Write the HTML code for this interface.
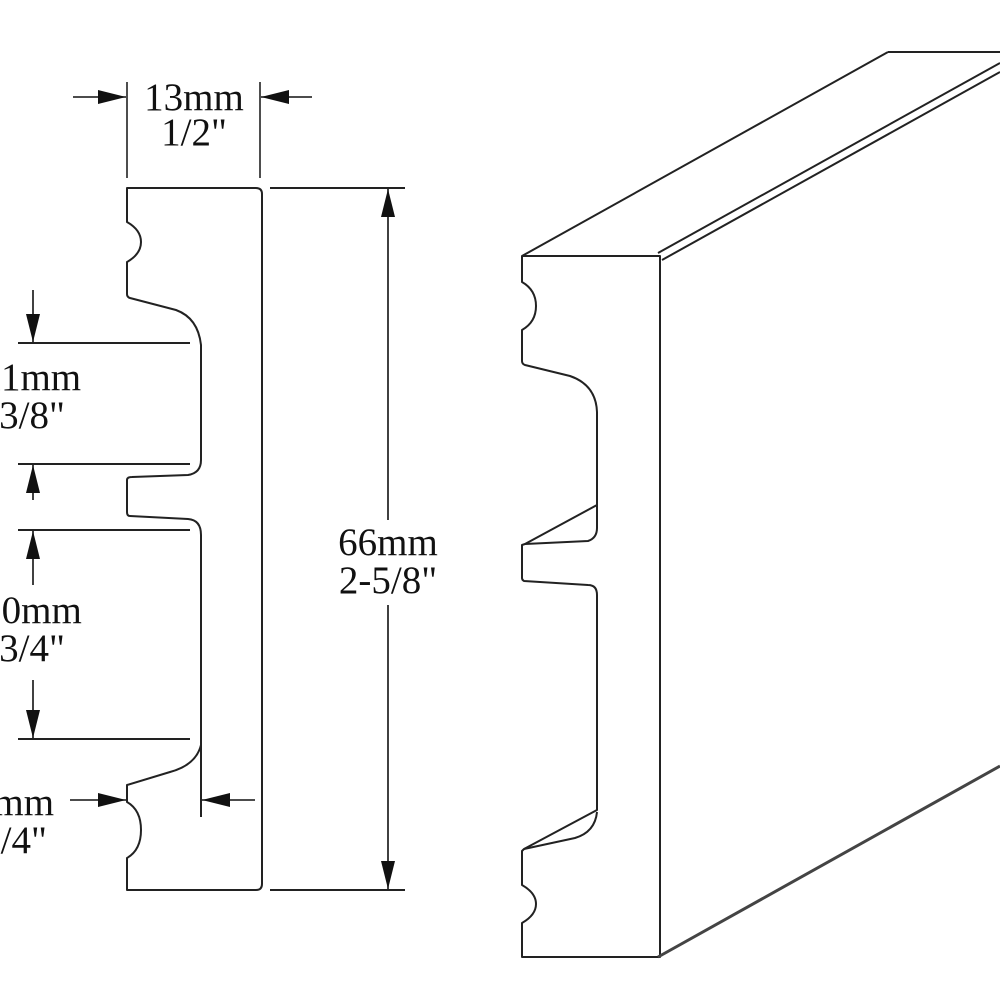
<!DOCTYPE html>
<html><head><meta charset="utf-8"><style>
html,body{margin:0;padding:0;background:#fff;}
svg{display:block;}
text{font-family:"Liberation Serif",serif;font-size:39px;fill:#111;}
</style></head><body>
<svg width="1000" height="1000" viewBox="0 0 1000 1000" xmlns="http://www.w3.org/2000/svg">
<defs>
<marker id="ah" viewBox="0 0 28 14" refX="28" refY="7" markerWidth="28" markerHeight="14" markerUnits="userSpaceOnUse" orient="auto">
<path d="M0,0 L28,7 L0,14 Z" fill="#111"/>
</marker>
</defs>
<g fill="none" stroke="#222" stroke-width="2" stroke-linejoin="round">
<path d="M127,188 L256,188 Q262,188 262,194 L262,884 Q262,890 256,890 L127,890 L127,858 Q141,850 141,830 Q141,810 127,802 L127,785 L170,772 Q196,765 201,745 L201,535 Q201,520 188,519 L130,516 Q127,516 127,512 L127,480 Q127,477 132,477 L188,475 Q201,473 201,460 L201,345 Q198,318 176,310 L130,298 Q127,297 127,294 L127,262 Q141,254 141,242 Q141,230 127,222 Z"/>
<line x1="201" y1="745" x2="201" y2="817"/>
<line x1="270" y1="188" x2="405" y2="188"/>
<line x1="270" y1="890" x2="405" y2="890"/>
<line x1="127" y1="82" x2="127" y2="178" stroke-width="1.6"/>
<line x1="260" y1="82" x2="260" y2="178" stroke-width="1.6"/>
<line x1="18" y1="343" x2="190" y2="343"/>
<line x1="18" y1="464" x2="190" y2="464"/>
<line x1="18" y1="530" x2="190" y2="530"/>
<line x1="18" y1="739" x2="190" y2="739"/>
</g>
<g stroke="#111" stroke-width="1.6" fill="none">
<line x1="73" y1="97" x2="126" y2="97" marker-end="url(#ah)"/>
<line x1="312" y1="97" x2="261" y2="97" marker-end="url(#ah)"/>
<line x1="33" y1="290" x2="33" y2="342" marker-end="url(#ah)"/>
<line x1="33" y1="500" x2="33" y2="465" marker-end="url(#ah)"/>
<line x1="33" y1="585" x2="33" y2="531" marker-end="url(#ah)"/>
<line x1="33" y1="680" x2="33" y2="738" marker-end="url(#ah)"/>
<line x1="70" y1="800" x2="126" y2="800" marker-end="url(#ah)"/>
<line x1="255" y1="800" x2="202" y2="800" marker-end="url(#ah)"/>
<line x1="388" y1="520" x2="388" y2="189" marker-end="url(#ah)"/>
<line x1="388" y1="605" x2="388" y2="889" marker-end="url(#ah)"/>
</g>
<text x="194" y="110" text-anchor="middle">13mm</text>
<text x="194" y="145" text-anchor="middle">1/2"</text>
<text x="388" y="555" text-anchor="middle">66mm</text>
<text x="388" y="593" text-anchor="middle">2-5/8"</text>
<text x="32" y="390" text-anchor="middle">11mm</text>
<text x="32" y="428" text-anchor="middle">3/8"</text>
<text x="32" y="623" text-anchor="middle">20mm</text>
<text x="32" y="661" text-anchor="middle">3/4"</text>
<text x="14" y="815" text-anchor="middle">6mm</text>
<text x="14" y="853" text-anchor="middle">1/4"</text>
<g fill="none" stroke="#222" stroke-width="2" stroke-linejoin="round">
<path d="M522,256 L660,256 L660,957 L522,957 L522,923 Q536,915 536,904 Q536,893 522,885 L522,851 L524,849 L597,810 L597,595 Q597,585 588,585 L524,581 Q522,580 522,578 L522,545 L525,544 L588,541 Q597,538 597,528 L597,412 Q596,385 570,376 L525,365 Q522,364 522,361 L522,330 Q536,322 536,306 Q536,290 522,282 Z"/>
<line x1="597" y1="505" x2="525" y2="544"/>
<path d="M597,812 Q595,832 575,838 L524,849"/>
<line x1="522" y1="256" x2="888" y2="52"/>
<line x1="888" y1="52" x2="1000" y2="52"/>
<line x1="658" y1="253" x2="1000" y2="63"/>
<line x1="662" y1="260" x2="1000" y2="72"/>
<line x1="658" y1="957" x2="1000" y2="766" stroke="#444" stroke-width="3"/>
</g>
</svg>
</body></html>
